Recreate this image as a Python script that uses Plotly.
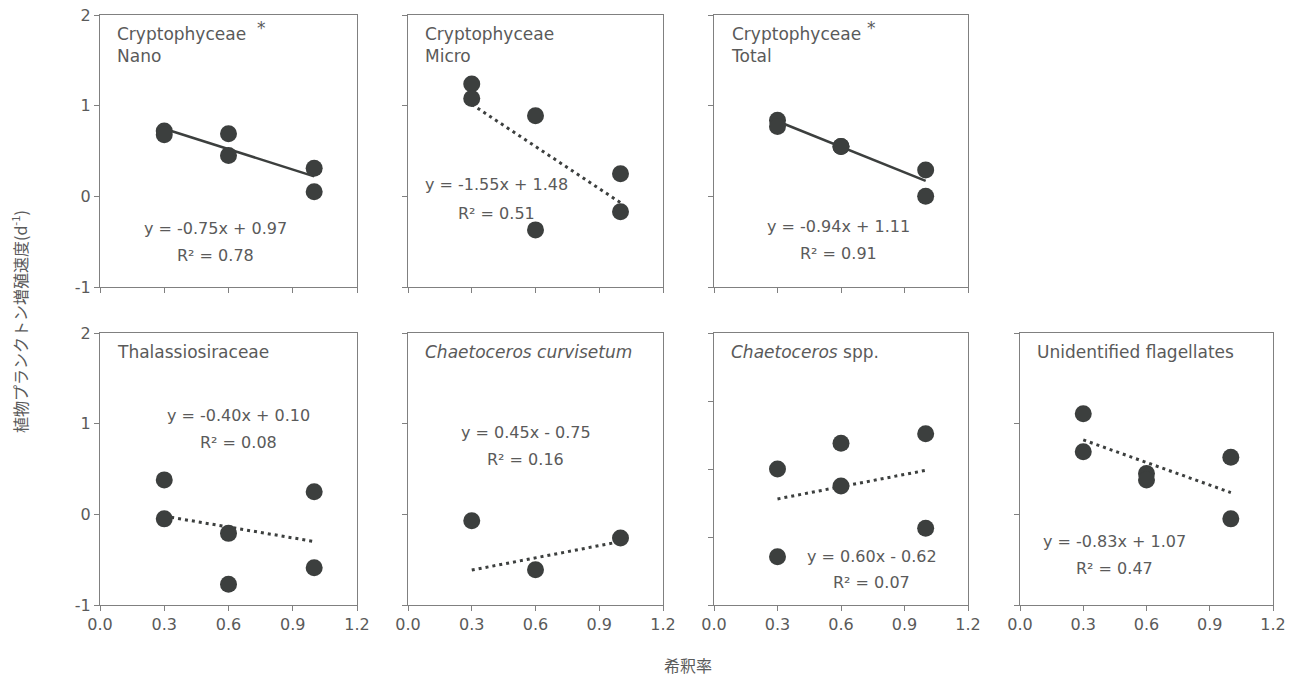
import plotly.graph_objects as go

# ---------------- data ----------------
titles = ["Cryptophyceae<br>Nano", "Cryptophyceae<br>Micro", "Cryptophyceae<br>Total",
          "Thalassiosiraceae", "<i>Chaetoceros curvisetum</i>", "<i>Chaetoceros</i> spp.",
          "Unidentified flagellates"]
starred = [True, False, True, False, False, False, False]

x_nano = [0.3, 0.3, 0.6, 0.6, 1.0, 1.0]
y_nano = [0.72, 0.68, 0.69, 0.45, 0.31, 0.05]
x_micro = [0.3, 0.3, 0.6, 0.6, 1.0, 1.0]
y_micro = [1.24, 1.08, 0.89, -0.37, 0.25, -0.17]
x_total = [0.3, 0.3, 0.6, 0.6, 1.0, 1.0]
y_total = [0.84, 0.77, 0.55, 0.55, 0.29, 0.00]
x_thal = [0.3, 0.3, 0.6, 0.6, 1.0, 1.0]
y_thal = [0.38, -0.05, -0.21, -0.77, 0.25, -0.59]
x_curv = [0.3, 0.6, 1.0]
y_curv = [-0.07, -0.61, -0.26]
x_chae = [0.3, 0.3, 0.6, 0.6, 1.0, 1.0]
y_chae = [0.00, -1.29, 0.38, -0.25, 0.52, -0.87]
x_flag = [0.3, 0.3, 0.6, 0.6, 1.0, 1.0]
y_flag = [1.11, 0.69, 0.45, 0.38, 0.63, -0.05]

slopes = [-0.75, -1.55, -0.94, -0.40, 0.45, 0.60, -0.83]
intercepts = [0.97, 1.48, 1.11, 0.10, -0.75, -0.62, 1.07]
r2 = [0.78, 0.51, 0.91, 0.08, 0.16, 0.07, 0.47]
fit_x_range = [0.3, 1.0]

x_ticks = [0.0, 0.3, 0.6, 0.9, 1.2]
x_tick_labels = ["0.0", "0.3", "0.6", "0.9", "1.2"]
y_ticks = [-2, -1, 0, 1, 2]
y_tick_labels = ["-2", "-1", "0", "1", "2"]
y_ranges = [[-1, 2], [-1, 2], [-1, 2], [-1, 2], [-1, 2], [-2, 2], [-1, 2]]

y_title = "植物プランクトン増殖速度(d<sup>-1</sup>)"
x_title = "希釈率"

xs = [x_nano, x_micro, x_total, x_thal, x_curv, x_chae, x_flag]
ys = [y_nano, y_micro, y_total, y_thal, y_curv, y_chae, y_flag]

# ---------------- layout geometry (page pixels) ----------------
PAGE_W, PAGE_H = 1297, 679
OFF = 8  # default page body margin
W, H = PAGE_W - OFF, PAGE_H - OFF


def px(p):
    return (p - OFF) / W


def py(p):
    return 1 - (p - OFF) / H


col_px = [(100, 357), (408, 663), (714, 968), (1020, 1273)]
row_px = [(15, 287), (333, 605)]
panel_pos = [(0, 0), (0, 1), (0, 2), (1, 0), (1, 1), (1, 2), (1, 3)]
# equation text position (data coords): (x, y_eq, y_r2)
eq_pos = [(0.537, -0.36, -0.65), (0.415, 0.13, -0.19), (0.59, -0.33, -0.63),
          (0.645, 1.09, 0.79), (0.555, 0.90, 0.61), (0.745, -1.28, -1.67),
          (0.45, -0.30, -0.60)]

TXT = "#5a5a5a"
AX = "#808080"
MK = "#3c3f3e"
FONT = "DejaVu Sans"

fig = go.Figure()
layout = dict(width=W, height=H, margin=dict(l=0, r=0, t=0, b=0, pad=0, autoexpand=False),
              paper_bgcolor="white", plot_bgcolor="white", showlegend=False,
              font=dict(family=FONT, color=TXT, size=14))
annotations = []


def fmt_eq(m, b):
    sign = "+" if b >= 0 else "-"
    return f"y = {m:.2f}x {sign} {abs(b):.2f}"


for i in range(7):
    r, c = panel_pos[i]
    n = i + 1
    xa = "xaxis" if n == 1 else f"xaxis{n}"
    ya = "yaxis" if n == 1 else f"yaxis{n}"
    xr = "x" if n == 1 else f"x{n}"
    yr = "y" if n == 1 else f"y{n}"
    x0, x1 = col_px[c]
    y0, y1 = row_px[r]
    layout[xa] = dict(domain=[px(x0), px(x1)], anchor=yr, range=[0, 1.2],
                      tickvals=x_ticks, ticktext=x_tick_labels, automargin=False,
                      ticklabeloverflow="allow",
                      showticklabels=(r == 1), ticks="outside", ticklen=5,
                      tickcolor=AX, showline=True, linecolor=AX, linewidth=1,
                      mirror=True, showgrid=False, zeroline=False,
                      tickfont=dict(size=16, color=TXT, family=FONT))
    layout[ya] = dict(domain=[py(y1), py(y0)], anchor=xr,
                      range=y_ranges[i], tickvals=y_ticks, ticktext=y_tick_labels,
                      automargin=False, ticklabeloverflow="allow",
                      showticklabels=(c == 0), ticks="outside", ticklen=5,
                      tickcolor=AX, showline=True, linecolor=AX, linewidth=1,
                      mirror=True, showgrid=False, zeroline=False,
                      tickfont=dict(size=16, color=TXT, family=FONT))
    # fit line
    lx = fit_x_range
    ly = [slopes[i] * v + intercepts[i] for v in lx]
    fig.add_trace(go.Scatter(x=lx, y=ly, mode="lines", xaxis=xr, yaxis=yr,
                             line=dict(color=MK, width=2.5 if starred[i] else 3,
                                       dash="solid" if starred[i] else "3px,4px"),
                             hoverinfo="skip"))
    fig.add_trace(go.Scatter(x=xs[i], y=ys[i], mode="markers", xaxis=xr, yaxis=yr,
                             marker=dict(color=MK, size=17, line=dict(width=0))))
    # title
    annotations.append(dict(text=titles[i], xref=f"{xr} domain", yref=f"{yr} domain",
                            x=15 / (x1 - x0), y=1 - 7 / (y1 - y0), xanchor="left",
                            yanchor="top", align="left", showarrow=False,
                            font=dict(size=17, color=TXT, family=FONT)))
    if starred[i]:
        annotations.append(dict(text="*", xref=f"{xr} domain", yref=f"{yr} domain",
                                x=(161 if c == 0 else 158) / (x1 - x0), y=1 - 13 / (y1 - y0),
                                xanchor="center", yanchor="middle", showarrow=False,
                                font=dict(size=17, color=TXT, family=FONT)))
    ex, ey, er = eq_pos[i]
    annotations.append(dict(text=fmt_eq(slopes[i], intercepts[i]), xref=xr, yref=yr,
                            x=ex, y=ey, xanchor="center", yanchor="middle",
                            showarrow=False, font=dict(size=16, color=TXT, family=FONT)))
    annotations.append(dict(text=f"R² = {r2[i]:.2f}", xref=xr, yref=yr,
                            x=ex, y=er, xanchor="center", yanchor="middle",
                            showarrow=False, font=dict(size=16, color=TXT, family=FONT)))

annotations.append(dict(text=y_title, xref="paper", yref="paper", x=px(19), y=py(322),
                        textangle=-90, showarrow=False, xanchor="center", yanchor="middle",
                        font=dict(size=16, color=TXT, family="Noto Sans CJK JP")))
annotations.append(dict(text=x_title, xref="paper", yref="paper", x=px(688), y=py(665),
                        showarrow=False, xanchor="center", yanchor="middle",
                        font=dict(size=16, color=TXT, family="Noto Sans CJK JP")))
layout["annotations"] = annotations
fig.update_layout(**layout)
fig.write_html("out.html")
